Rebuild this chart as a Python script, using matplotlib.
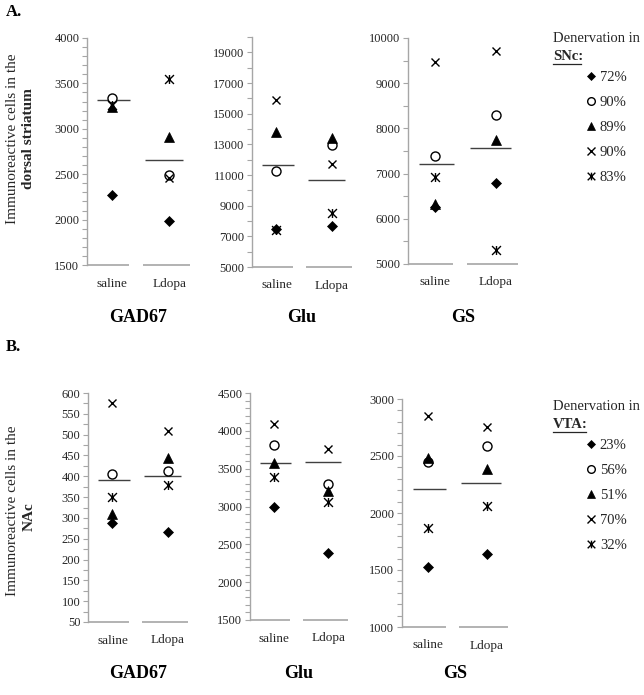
import numpy as np
import matplotlib
matplotlib.use('Agg')
import matplotlib.pyplot as plt
from matplotlib.path import Path
from matplotlib.lines import Line2D
from matplotlib.ticker import MultipleLocator, FixedLocator

plt.rcParams['font.family'] = ['Liberation Serif', 'DejaVu Serif']

# ---------------- data ----------------
groups = ['saline', 'Ldopa']
# order of animals: diamond, circle, triangle, x, asterisk
snc_labels = ['72%', '90%', '89%', '90%', '83%']
vta_labels = ['23%', '56%', '51%', '70%', '32%']

A_GAD67_saline = [2270, 3340, 3235, np.nan, 3265]
A_GAD67_ldopa = [1980, 2490, 2915, 2455, 3550]
A_GAD67_mean = [3312, 2658]

A_Glu_saline = [7500, 11250, 13800, 15880, 7400]
A_Glu_ldopa = [7700, 12950, 13400, 11750, 8500]
A_Glu_mean = [11640, 10670]

A_GS_saline = [6260, 7390, 6330, 9460, 6930]
A_GS_ldopa = [6800, 8300, 7740, 9715, 5320]
A_GS_mean = [7212, 7563]

B_GAD67_saline = [287, 406, 310, 577, 350]
B_GAD67_ldopa = [267, 412, 443, 509, 380]
B_GAD67_mean = [392, 401]

B_Glu_saline = [2995, 3808, 3575, 4095, 3392]
B_Glu_ldopa = [2380, 3300, 3210, 3760, 3062]
B_Glu_mean = [3576, 3588]

B_GS_saline = [1529, 2450, 2485, 2852, 1872]
B_GS_ldopa = [1636, 2588, 2383, 2757, 2062]
B_GS_mean = [2208, 2267]

titles = ['GAD67', 'Glu', 'GS']

# ---------------- layout helpers ----------------
W, H = 644, 695
fig = plt.figure(figsize=(W / 100, H / 100), dpi=100)


def fx(px):
    return px / W


def fy(py):
    return 1 - py / H


def axes_px(left, right, top, bottom):
    return fig.add_axes([fx(left), fy(bottom), (right - left) / W, (bottom - top) / H])


star = Path([(-1, -1), (1, 1), (-1, 1), (1, -1), (0, -1), (0, 1)],
            [Path.MOVETO, Path.LINETO, Path.MOVETO, Path.LINETO, Path.MOVETO, Path.LINETO])

styles = [
    dict(marker='D', ms=4.6, mfc='black', mec='black', mew=0.5),
    dict(marker='o', ms=6.5, mfc='white', mec='black', mew=1.0),
    dict(marker='^', ms=6.8, mfc='black', mec='black', mew=0.5),
    dict(marker='x', ms=6.2, mec='black', mew=1.0),
    dict(marker=star, ms=6.4, mec='black', mew=1.0),
]

legend_styles = [
    dict(marker='D', ms=3.6, mfc='black', mec='black', mew=0.5),
    dict(marker='o', ms=5.5, mfc='white', mec='black', mew=1.0),
    dict(marker='^', ms=5.5, mfc='black', mec='black', mew=0.5),
    dict(marker='x', ms=5.5, mec='black', mew=1.0),
    dict(marker=star, ms=5.5, mec='black', mew=1.0),
]

AXIS_GRAY = '#a6a6a6'
TXT = '#262626'
XLIM = (-0.44, 1.36)


def draw_panel(box, saline, ldopa, means, ylim, major, minor, labels=None):
    ax = axes_px(*box)
    ax.set_xlim(*XLIM)
    ax.set_ylim(*ylim)
    for sp in ['top', 'right', 'bottom']:
        ax.spines[sp].set_visible(False)
    ax.spines['left'].set_color(AXIS_GRAY)
    ax.spines['left'].set_linewidth(1.0)
    if labels is None:
        ax.yaxis.set_major_locator(MultipleLocator(major))
    else:
        ax.yaxis.set_major_locator(FixedLocator(labels))
    ax.yaxis.set_minor_locator(MultipleLocator(minor))
    ax.tick_params(axis='y', which='both', direction='out', length=3.5,
                   width=0.8, color=AXIS_GRAY, labelsize=9, labelcolor=TXT, pad=2)
    ax.set_xticks(range(len(groups)))
    ax.set_xticklabels(groups, fontsize=9.5, color=TXT)
    ax.tick_params(axis='x', length=0, pad=9)
    # broken category baseline
    ax.hlines(ylim[0], XLIM[0], 0.30, color=AXIS_GRAY, lw=1.2, clip_on=False)
    ax.hlines(ylim[0], 0.53, XLIM[1], color=AXIS_GRAY, lw=1.2, clip_on=False)
    # mean lines
    ax.hlines(means[0], -0.26, 0.31, color='#404040', lw=1.0)
    ax.hlines(means[1], 0.57, 1.24, color='#404040', lw=1.0)
    for i, st in enumerate(styles):
        ax.plot([0], [saline[i]], linestyle='none', **st, clip_on=False)
        ax.plot([1], [ldopa[i]], linestyle='none', **st, clip_on=False)
    ax.patch.set_alpha(0)
    return ax


# Row A
draw_panel((87, 190, 38, 265), A_GAD67_saline, A_GAD67_ldopa, A_GAD67_mean,
           (1500, 4000), 500, 100)
draw_panel((252, 352, 37, 267), A_Glu_saline, A_Glu_ldopa, A_Glu_mean,
           (5000, 20000), 2000, 1000, labels=list(range(5000, 20000, 2000)))
draw_panel((408, 518, 38, 264), A_GS_saline, A_GS_ldopa, A_GS_mean,
           (5000, 10000), 1000, 500)

# Row B
draw_panel((88, 188, 393, 622), B_GAD67_saline, B_GAD67_ldopa, B_GAD67_mean,
           (50, 600), 50, 25)
draw_panel((250, 348, 393, 620), B_Glu_saline, B_Glu_ldopa, B_Glu_mean,
           (1500, 4500), 500, 100)
draw_panel((402, 508, 399, 627), B_GS_saline, B_GS_ldopa, B_GS_mean,
           (1000, 3000), 500, 100)

# titles
for cx, t in zip([138, 302, 463], titles):
    fig.text(fx(cx), fy(318), t, ha='center', va='center', fontsize=13,
             fontweight='bold', color='black')
for cx, t in zip([138, 299, 455], titles):
    fig.text(fx(cx), fy(673), t, ha='center', va='center', fontsize=13,
             fontweight='bold', color='black')

# panel letters
fig.text(fx(6), fy(12), 'A.', ha='left', va='center', fontsize=12, fontweight='bold')
fig.text(fx(6), fy(347), 'B.', ha='left', va='center', fontsize=12, fontweight='bold')

# y labels
fig.text(fx(13), fy(139), 'Immunoreactive cells in the', rotation=90,
         ha='center', va='center', fontsize=11, color=TXT)
fig.text(fx(29), fy(139), 'dorsal striatum', rotation=90,
         ha='center', va='center', fontsize=11, fontweight='bold', color=TXT)
fig.text(fx(13), fy(511), 'Immunoreactive cells in the', rotation=90,
         ha='center', va='center', fontsize=11, color=TXT)
fig.text(fx(29), fy(517), 'NAc', rotation=90,
         ha='center', va='center', fontsize=11, fontweight='bold', color=TXT)

# legends
renderer = fig.canvas.get_renderer()


def legend_block(top_y, region, labels):
    fig.text(fx(553), fy(top_y), 'Denervation in', ha='left', va='center',
             fontsize=10.5, color=TXT)
    t = fig.text(fx(553), fy(top_y + 18), region, ha='left', va='center',
                 fontsize=10.5, fontweight='bold', color=TXT)
    bb = t.get_window_extent(renderer=renderer)
    yline = bb.y0 - 1
    fig.add_artist(Line2D([bb.x0 / W, (bb.x1 - 2) / W], [yline / H, yline / H],
                          color=TXT, lw=0.9))
    handles = [Line2D([], [], linestyle='none', **st) for st in legend_styles]
    fig.legend(handles, labels, loc='upper left',
               bbox_to_anchor=(fx(586), fy(top_y + 33)), frameon=False,
               fontsize=10.5, handlelength=0.7, handletextpad=0.25,
               labelspacing=0.8, borderpad=0, borderaxespad=0,
               labelcolor=TXT)


legend_block(38, 'SNc:', snc_labels)
legend_block(406, 'VTA:', vta_labels)

fig.savefig('out.png', dpi=100)
